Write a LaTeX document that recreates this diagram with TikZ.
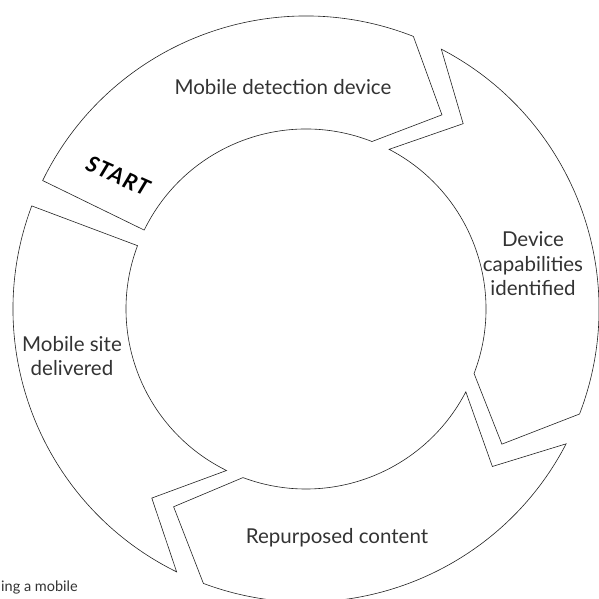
\documentclass[tikz,border=0pt]{standalone}
\usepackage{fontspec}
\setmainfont{Lato}
\definecolor{ink}{HTML}{222222}
\definecolor{txt}{HTML}{333333}
\tikzset{
  seg/.style={draw=ink, line width=0.6pt, line join=miter},
  lbl/.style={text=txt, font=\fontsize{20.5}{24.5}\selectfont, align=center, inner sep=0pt},
  startlbl/.style={text=black, font=\fontsize{22}{26}\selectfont\bfseries\itshape\addfontfeature{LetterSpace=6}, inner sep=0pt},
  caption/.style={text=txt, font=\fontsize{14.5}{17}\selectfont, inner sep=0pt, anchor=west}
}
\begin{document}
\begin{tikzpicture}[x=1pt,y=1pt]
\useasboundingbox (0,0) rectangle (598,599);
\begin{scope}[shift={(306,290)}]
  % segment 1: START + Mobile detection device
  \draw[seg] (154:293) arc[start angle=154, end angle=68.5, radius=293]
     -- (55:237) -- (68.5:180) arc[start angle=68.5, end angle=154, radius=180] -- cycle;
  % segment 2: Device capabilities identified
  \draw[seg] (62.5:293) arc[start angle=62.5, end angle=-21, radius=293]
     -- (-34.6:238) -- (-21:180) arc[start angle=-21, end angle=62.5, radius=180]
     -- (49.7:243) -- cycle;
  % segment 3: Repurposed content
  \draw[seg] (-27.4:293) arc[start angle=-27.4, end angle=-110.5, radius=293]
     -- (-123.8:238) -- (-110.5:180) arc[start angle=-110.5, end angle=-27.4, radius=180]
     -- (-40.2:244) -- cycle;
  % segment 4: Mobile site delivered
  \draw[seg] (-116.2:293) arc[start angle=-116.2, end angle=-200.6, radius=293]
     -- (-200.6:180) arc[start angle=-200.6, end angle=-116.2, radius=180]
     -- (-129.2:244) -- cycle;
\end{scope}
\node[lbl] (detect) at (283,512) {Mobile detection device};
\node[lbl] (caps) at (533,335) {Device\\capabilities\\identified};
\node[lbl] (site) at (72,243) {Mobile site\\delivered};
\node[lbl] (repurp) at (337,61) {Repurposed content};
\node[startlbl, rotate=-24] (start) at (118,423) {START};
\node[caption] (cap) at (1,12) {ing a mobile};
\end{tikzpicture}
\end{document}
